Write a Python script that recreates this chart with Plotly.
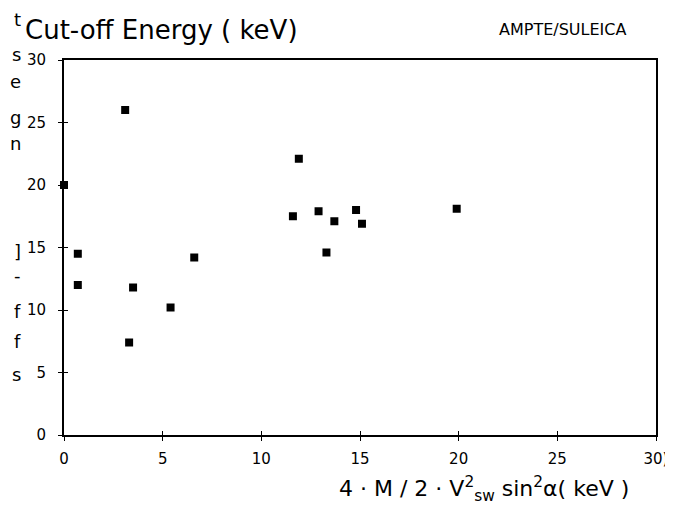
import plotly.graph_objects as go

# Data
x_vals = [0.0, 0.7, 0.7, 3.1, 3.3, 3.5, 5.4, 6.6, 11.6, 11.9, 12.9, 13.3, 13.7, 14.8, 15.1, 19.9]
y_vals = [20.0, 14.5, 12.0, 26.0, 7.4, 11.8, 10.2, 14.2, 17.5, 22.1, 17.9, 14.6, 17.1, 18.0, 16.9, 18.1]
x_ticks = [0, 5, 10, 15, 20, 25, 30]
y_ticks = [0, 5, 10, 15, 20, 25, 30]
x_tick_text = ["0", "5", "10", "15", "20", "25", "30)"]

FONT = "DejaVu Sans, sans-serif"

W, H = 673, 505
L, R, T, B = 56, 25, 52, 78
pw, ph = W - L - R, H - T - B

fig = go.Figure()
fig.add_trace(go.Scatter(
    x=x_vals, y=y_vals, mode="markers",
    marker=dict(symbol="square", size=8, color="black"),
    cliponaxis=False, showlegend=False, hoverinfo="x+y",
))
# invisible trace to carry the inner-tick overlay axes
fig.add_trace(go.Scatter(x=[None], y=[None], xaxis="x2", yaxis="y2",
                         mode="markers", showlegend=False, hoverinfo="skip"))

axis_common = dict(range=[0, 30], showgrid=False, zeroline=False, showline=True,
                   linecolor="black", tickcolor="black")
fig.update_layout(
    width=W, height=H,
    margin=dict(l=L, r=R, t=T, b=B),
    paper_bgcolor="white", plot_bgcolor="white",
    font=dict(family=FONT, color="black", size=15),
    xaxis=dict(**axis_common, tickvals=x_ticks, ticktext=x_tick_text,
               linewidth=2, mirror=True, ticks="outside", ticklen=4,
               tickfont=dict(size=15), ticklabelstandoff=5),
    yaxis=dict(**axis_common, tickvals=y_ticks,
               linewidth=2, mirror=True, ticks="outside", ticklen=4,
               tickfont=dict(size=15), ticklabelstandoff=9),
    xaxis2=dict(**axis_common, tickvals=x_ticks, overlaying="x", side="bottom",
                ticks="inside", ticklen=4, showticklabels=False, linewidth=2),
    yaxis2=dict(**axis_common, tickvals=y_ticks, overlaying="y", side="left",
                ticks="inside", ticklen=4, showticklabels=False, linewidth=2),
)

ann = []
ann.append(dict(text="Cut-off Energy ( keV)", x=(15 - L) / pw, y=(H - B - 22) / ph,
                xanchor="left", yanchor="middle", font=dict(size=26)))
ann.append(dict(text="AMPTE/SULEICA", x=(620 - L) / pw, y=(H - B - 22) / ph,
                xanchor="right", yanchor="middle", font=dict(size=16)))
ann.append(dict(text="4 · M / 2 · V<sup>2</sup><sub>sw</sub> sin<sup>2</sup>α( keV )",
                x=(476 - L) / pw, y=(H - B - 481) / ph,
                xanchor="center", yanchor="middle", font=dict(size=22)))
# fragments of neighbouring column text on the scan's left edge
frags = [("t", 12), ("s", 47), ("e", 73), ("g", 110), ("n", 135), ("]", 243),
         ("-", 267), ("f", 303), ("f", 333), ("s", 366)]
for t, py in frags:
    ann.append(dict(text=t, x=(15 - L) / pw, y=(H - B - py) / ph,
                    xanchor="right", yanchor="middle",
                    font=dict(size=18, family="DejaVu Sans")))
for a in ann:
    a.update(xref="paper", yref="paper", showarrow=False)
fig.update_layout(annotations=ann)

fig.write_html("out.html")
